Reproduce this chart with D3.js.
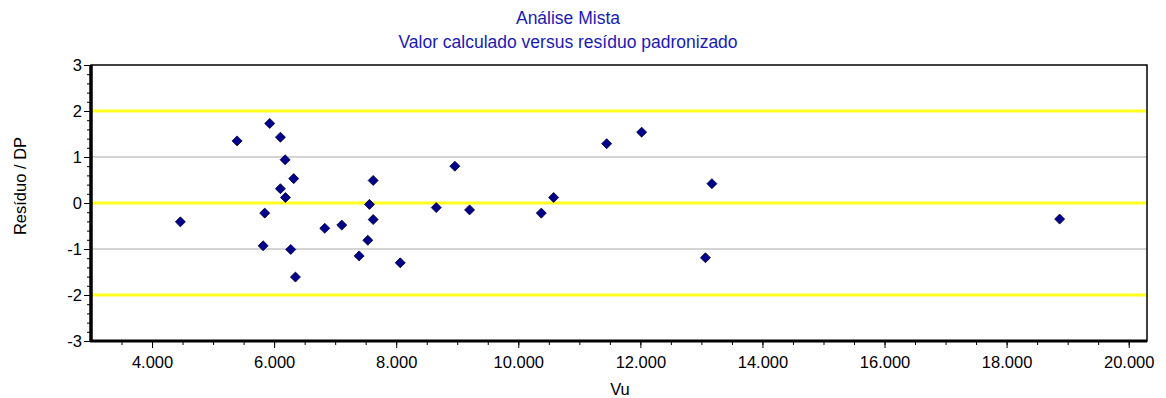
<!DOCTYPE html>
<html>
<head>
<meta charset="utf-8">
<script src="https://cdn.jsdelivr.net/npm/d3@7"></script>
<style>
body { margin:0; background:#fff; }
text { font-family: "Liberation Sans", Arial, sans-serif; }
</style>
</head>
<body>
<div id="chart"></div>
<script>
// valores
var vu = [4464, 5393, 5928, 6103, 6180, 6321, 6103, 6185, 5846, 5820, 6272, 6349,
          6830, 7108, 7623, 7562, 7623, 7535, 7393, 8066, 8961, 8656, 9202,
          10377, 10579, 11448, 12021, 13066, 13172, 18869];
var residuo = [-0.41, 1.35, 1.73, 1.43, 0.94, 0.53, 0.31, 0.12, -0.22, -0.93, -1.01, -1.61,
               -0.55, -0.48, 0.49, -0.03, -0.36, -0.81, -1.15, -1.30, 0.80, -0.10, -0.15,
               -0.22, 0.12, 1.29, 1.54, -1.19, 0.42, -0.35];
var xTicks = [4000, 6000, 8000, 10000, 12000, 14000, 16000, 18000, 20000];
var yTicks = [-3, -2, -1, 0, 1, 2, 3];
var yellowLines = [-2, 0, 2];
var greyLines = [-1, 1];
var titulo = ["Análise Mista", "Valor calculado versus resíduo padronizado"];

var width = 1166, height = 398;
var pLeft = 91, pRight = 1147, pTop = 65, pBottom = 341;
var fs = 16.5;

var svg = d3.select("#chart")
    .append("svg")
    .attr("width", width)
    .attr("height", height);

var x = d3.scaleLinear().domain([3000, 20300]).range([pLeft, pRight]);
var y = d3.scaleLinear().domain([-3, 3]).range([pBottom, pTop]);

var fmt = function(d) { return d3.format(",.3f")(d / 1000).replace(",", ""); };

// linhas de grade
svg.append("g")
  .selectAll("line")
  .data(greyLines)
  .enter().append("line")
    .attr("x1", pLeft).attr("x2", pRight)
    .attr("y1", function(d) { return y(d); })
    .attr("y2", function(d) { return y(d); })
    .attr("stroke", "#c6c6c6")
    .attr("stroke-width", 1.5);

svg.append("g")
  .selectAll("line")
  .data(yellowLines)
  .enter().append("line")
    .attr("x1", pLeft).attr("x2", pRight)
    .attr("y1", function(d) { return y(d); })
    .attr("y2", function(d) { return y(d); })
    .attr("stroke", "#ffff1e")
    .attr("stroke-width", 3);

// moldura
svg.append("rect")
    .attr("x", pLeft).attr("y", pTop)
    .attr("width", pRight - pLeft).attr("height", pBottom - pTop)
    .attr("fill", "none")
    .attr("stroke", "#000")
    .attr("stroke-width", 1.5);

// eixo x
var xAxis = svg.append("g")
    .attr("transform", "translate(0," + pBottom + ")");
xAxis.call(d3.axisBottom(x).tickValues(d3.range(3500, 20300, 500)).tickSize(4).tickFormat(""))
    .select(".domain").remove();
xAxis.append("g")
    .call(d3.axisBottom(x).tickValues(xTicks).tickSize(7).tickPadding(8).tickFormat(fmt))
    .call(function(g) { g.select(".domain").remove(); })
    .selectAll("text")
    .attr("font-size", fs)
    .attr("font-family", "Liberation Sans, Arial, sans-serif")
    .attr("fill", "#000");
svg.append("line")
    .attr("x1", pLeft - 1).attr("x2", pRight)
    .attr("y1", pBottom).attr("y2", pBottom)
    .attr("stroke", "#000").attr("stroke-width", 3);

// eixo y
var yAxis = svg.append("g")
    .attr("transform", "translate(" + pLeft + ",0)");
yAxis.call(d3.axisLeft(y).tickValues(d3.range(-3, 3.01, 0.2)).tickSize(4).tickFormat(""))
    .select(".domain").remove();
yAxis.append("g")
    .call(d3.axisLeft(y).tickValues(yTicks).tickSize(7).tickPadding(2).tickFormat(function(d) { return String(d); }))
    .call(function(g) { g.select(".domain").remove(); })
    .selectAll("text")
    .attr("font-size", fs)
    .attr("font-family", "Liberation Sans, Arial, sans-serif")
    .attr("fill", "#000");
svg.append("line")
    .attr("x1", pLeft).attr("x2", pLeft)
    .attr("y1", pTop).attr("y2", pBottom + 1)
    .attr("stroke", "#000").attr("stroke-width", 3.5);

// pontos
svg.append("g")
  .selectAll("path")
  .data(vu)
  .enter().append("path")
    .attr("d", d3.symbol().type(d3.symbolDiamond2).size(64))
    .attr("transform", function(d, i) { return "translate(" + x(d) + "," + y(residuo[i]) + ")"; })
    .attr("fill", "#00008b")
    .attr("stroke", "#000033")
    .attr("stroke-width", 0.8);

// titulos
svg.append("g")
  .selectAll("text")
  .data(titulo)
  .enter().append("text")
    .attr("x", 568)
    .attr("y", function(d, i) { return 24 + i * 24; })
    .attr("text-anchor", "middle")
    .attr("font-size", 17.5)
    .attr("fill", "#1a1ab4")
    .text(function(d) { return d; });

svg.append("text")
    .attr("x", 620)
    .attr("y", 395)
    .attr("text-anchor", "middle")
    .attr("font-size", fs)
    .text("Vu");

svg.append("text")
    .attr("transform", "translate(26,186) rotate(-90)")
    .attr("text-anchor", "middle")
    .attr("font-size", fs)
    .text("Resíduo / DP");
</script>
</body>
</html>
